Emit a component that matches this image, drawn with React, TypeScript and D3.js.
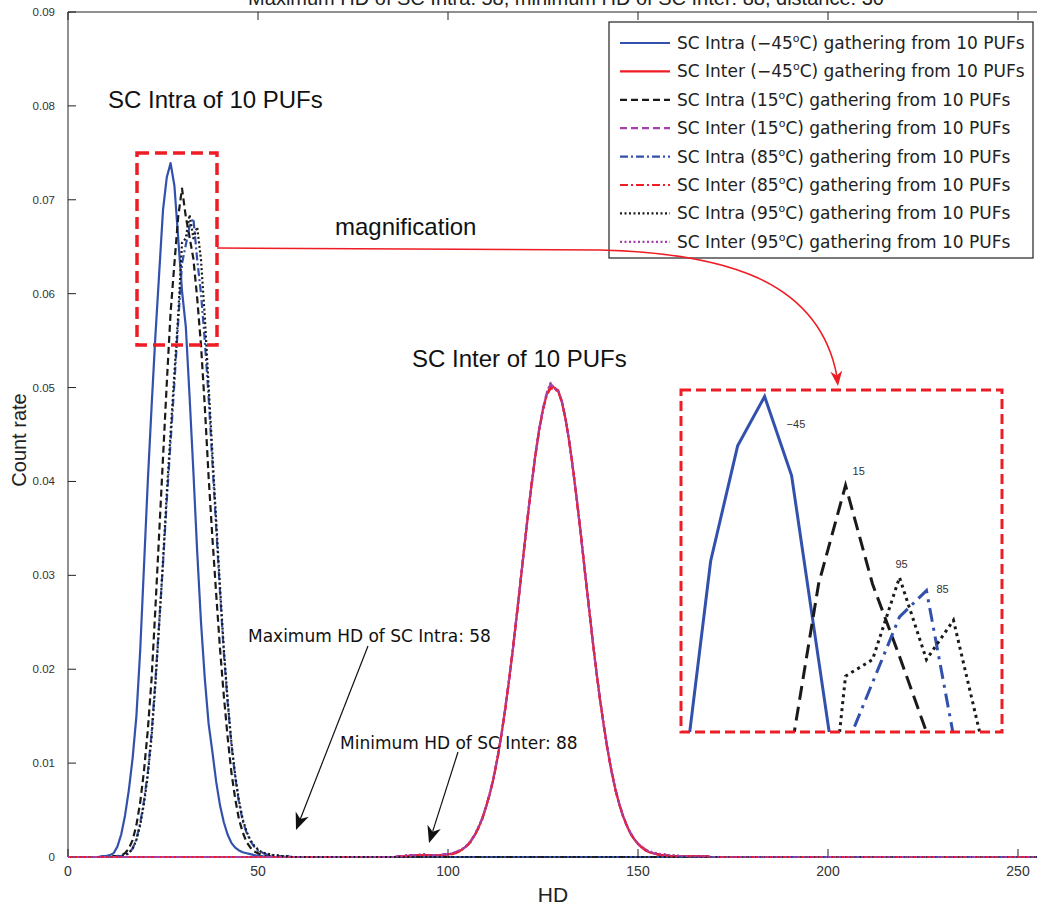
import React from "react";
import * as d3 from "d3";

// ---------- data (HD histogram count rates) ----------
const HD_MAX = 256;
const xTicks = [0, 50, 100, 150, 200, 250];
const yTicks = [0, 0.01, 0.02, 0.03, 0.04, 0.05, 0.06, 0.07, 0.08, 0.09];
const yTickLabels = ["0", "0.01", "0.02", "0.03", "0.04", "0.05", "0.06", "0.07", "0.08", "0.09"];

// intra, -45C, values start at HD 8
const intraM45Start = 8;
const intraM45 = [0, 0.0001, 0.0001, 0.0002, 0.0004, 0.0011, 0.0024, 0.0044, 0.0071, 0.0105, 0.015, 0.022, 0.031, 0.04, 0.048, 0.0555, 0.0622, 0.0689, 0.0724, 0.0739, 0.0715, 0.0659, 0.0603, 0.0565, 0.049, 0.041, 0.0325, 0.025, 0.019, 0.0142, 0.0112, 0.008, 0.0055, 0.0037, 0.0024, 0.0015, 0.001, 0.0007, 0.0005, 0.0004, 0.0003, 0.0002, 0.0001, 0.0001, 0];

// intra, 15C, values start at HD 10
const intra15Start = 10;
const intra15 = [0, 0, 0.0001, 0.0001, 0.0002, 0.0004, 0.0009, 0.0018, 0.0034, 0.0058, 0.0092, 0.0135, 0.019, 0.0265, 0.0345, 0.0425, 0.0505, 0.058, 0.0632, 0.0682, 0.0712, 0.0682, 0.066, 0.0637, 0.0595, 0.0545, 0.048, 0.0405, 0.034, 0.028, 0.0222, 0.0172, 0.0128, 0.009, 0.0062, 0.004, 0.0026, 0.0016, 0.001, 0.0006, 0.0004, 0.0002, 0.0001, 0.0001, 0];

// intra, 85C, values start at HD 10
const intra85Start = 10;
const intra85 = [0, 0, 0, 0.0001, 0.0001, 0.0002, 0.0004, 0.0009, 0.0019, 0.0036, 0.006, 0.009, 0.0132, 0.0188, 0.025, 0.0312, 0.038, 0.0442, 0.0505, 0.057, 0.0632, 0.0652, 0.0672, 0.068, 0.0636, 0.06, 0.055, 0.049, 0.042, 0.035, 0.0282, 0.0218, 0.0165, 0.012, 0.0085, 0.0058, 0.0038, 0.0026, 0.0017, 0.0011, 0.0007, 0.0005, 0.0003, 0.0002, 0.0002, 0.0001, 0.0001, 0.0001, 0.0001, 0];

// intra, 95C, values start at HD 10
const intra95Start = 10;
const intra95 = [0, 0, 0, 0, 0.0001, 0.0002, 0.0004, 0.0009, 0.0018, 0.0034, 0.0057, 0.0087, 0.0128, 0.0184, 0.0248, 0.0315, 0.0388, 0.0452, 0.0515, 0.0577, 0.0654, 0.0659, 0.0684, 0.0659, 0.0671, 0.0636, 0.0575, 0.0502, 0.043, 0.0358, 0.0288, 0.0222, 0.0168, 0.0122, 0.0087, 0.006, 0.004, 0.0027, 0.0018, 0.0012, 0.0008, 0.0005, 0.0004, 0.0003, 0.0002, 0.0002, 0.0001, 0.0001, 0.0001, 0];

// inter series, values start at HD 86
const interStart = 86;
const interM45 = [0, 0.0001, 0.0001, 0.0001, 0.0001, 0.0002, 0.0002, 0.0002, 0.0002, 0.0002, 0.0002, 0.0002, 0.0002, 0.0002, 0.0003, 0.0003, 0.0005, 0.0006, 0.0009, 0.0012, 0.0017, 0.0023, 0.0031, 0.0041, 0.0053, 0.0067, 0.0084, 0.0105, 0.0129, 0.0156, 0.0186, 0.0219, 0.0254, 0.029, 0.0327, 0.0363, 0.0397, 0.0428, 0.0455, 0.0477, 0.0493, 0.0501, 0.05, 0.0497, 0.0484, 0.0465, 0.044, 0.041, 0.0377, 0.0342, 0.0305, 0.0269, 0.0233, 0.0199, 0.0168, 0.014, 0.0114, 0.0092, 0.0073, 0.0057, 0.0044, 0.0034, 0.0025, 0.0019, 0.0014, 0.001, 0.0007, 0.0005, 0.0004, 0.0003, 0.0002, 0.0002, 0.0001, 0.0001, 0.0001, 0.0001, 0.0001, 0.0001, 0.0001, 0.0001, 0.0001, 0.0001, 0.0001, 0];
const inter15 = [0, 0.0001, 0.0001, 0.0001, 0.0002, 0.0002, 0.0002, 0.0002, 0.0002, 0.0002, 0.0002, 0.0002, 0.0002, 0.0003, 0.0003, 0.0004, 0.0005, 0.0007, 0.0009, 0.0012, 0.0017, 0.0024, 0.0031, 0.0041, 0.0054, 0.0067, 0.0085, 0.0105, 0.0128, 0.0157, 0.0187, 0.0218, 0.0255, 0.0291, 0.0326, 0.0364, 0.0396, 0.0429, 0.0456, 0.0478, 0.0494, 0.0504, 0.0499, 0.0496, 0.0485, 0.0464, 0.0441, 0.0409, 0.0378, 0.0341, 0.0306, 0.0268, 0.0234, 0.0198, 0.0169, 0.0139, 0.0115, 0.0091, 0.0073, 0.0058, 0.0044, 0.0034, 0.0026, 0.0019, 0.0014, 0.001, 0.0008, 0.0005, 0.0004, 0.0003, 0.0002, 0.0002, 0.0002, 0.0001, 0.0001, 0.0001, 0.0001, 0.0001, 0.0001, 0.0001, 0.0001, 0.0001, 0.0001, 0];
const inter85 = [0, 0.0001, 0.0001, 0.0001, 0.0001, 0.0001, 0.0002, 0.0002, 0.0002, 0.0002, 0.0002, 0.0002, 0.0002, 0.0002, 0.0003, 0.0003, 0.0004, 0.0006, 0.0009, 0.0012, 0.0016, 0.0023, 0.0031, 0.004, 0.0053, 0.0068, 0.0084, 0.0104, 0.0129, 0.0155, 0.0186, 0.022, 0.0253, 0.029, 0.0328, 0.0362, 0.0398, 0.0427, 0.0455, 0.0476, 0.0492, 0.0499, 0.0498, 0.0496, 0.0484, 0.0466, 0.0439, 0.0411, 0.0376, 0.0343, 0.0304, 0.027, 0.0232, 0.02, 0.0167, 0.0141, 0.0113, 0.0093, 0.0072, 0.0057, 0.0045, 0.0034, 0.0025, 0.0019, 0.0014, 0.0011, 0.0007, 0.0005, 0.0004, 0.0003, 0.0002, 0.0002, 0.0001, 0.0001, 0.0001, 0.0001, 0.0001, 0.0001, 0.0001, 0.0001, 0.0001, 0.0001, 0.0001, 0];
const inter95 = [0, 0.0001, 0.0001, 0.0002, 0.0002, 0.0002, 0.0002, 0.0003, 0.0003, 0.0002, 0.0002, 0.0002, 0.0002, 0.0003, 0.0003, 0.0004, 0.0005, 0.0007, 0.0009, 0.0013, 0.0017, 0.0023, 0.0032, 0.0041, 0.0053, 0.0068, 0.0085, 0.0106, 0.0129, 0.0156, 0.0187, 0.0219, 0.0255, 0.029, 0.0328, 0.0364, 0.0397, 0.0429, 0.0456, 0.0477, 0.0495, 0.0505, 0.0499, 0.0497, 0.0485, 0.0465, 0.044, 0.041, 0.0378, 0.0342, 0.0306, 0.0269, 0.0234, 0.0199, 0.0168, 0.014, 0.0115, 0.0092, 0.0073, 0.0058, 0.0045, 0.0034, 0.0026, 0.0019, 0.0014, 0.0011, 0.0008, 0.0006, 0.0005, 0.0004, 0.0003, 0.0003, 0.0002, 0.0002, 0.0002, 0.0001, 0.0001, 0.0001, 0.0001, 0.0001, 0.0001, 0.0001, 0.0001, 0];

const legendLabels = ["SC Intra (−45", "SC Inter (−45", "SC Intra (15", "SC Inter (15", "SC Intra (85", "SC Inter (85", "SC Intra (95", "SC Inter (95"];
const insetLabels = ["−45", "15", "85", "95"];
const insetLabelSeries = [0, 2, 4, 6];
const insetLabelHD = [27, 30, 33, 32];

// ---------- styling ----------
const BLUE = "#3251ac";
const RED = "#ee1d25";
const BLACK = "#1a1a1a";
const MAGENTA = "#a540ad";
const insetLabelOffsets = [[22, 31], [7, -10], [10, 2], [-4, -9]];

type Pt = { x: number; y: number };
function pad(start: number, vals: number[]): Pt[] {
  const out: Pt[] = [];
  for (let h = 0; h <= HD_MAX; h++) {
    const i = h - start;
    out.push({ x: h, y: i >= 0 && i < vals.length ? vals[i] : 0 });
  }
  return out;
}

const series = [
  { data: pad(intraM45Start, intraM45), color: BLUE, dash: "none", idash: "none" },
  { data: pad(interStart, interM45), color: RED, dash: "none", idash: "none" },
  { data: pad(intra15Start, intra15), color: BLACK, dash: "7,4", idash: "14,7" },
  { data: pad(interStart, inter15), color: MAGENTA, dash: "7,4", idash: "14,7" },
  { data: pad(intra85Start, intra85), color: BLUE, dash: "8,3,2,3", idash: "14,6,3,6" },
  { data: pad(interStart, inter85), color: RED, dash: "8,3,2,3", idash: "14,6,3,6" },
  { data: pad(intra95Start, intra95), color: BLACK, dash: "2,2.5", idash: "3,4" },
  { data: pad(interStart, inter95), color: MAGENTA, dash: "2,2.5", idash: "3,4" },
];

function arrowHead(x1: number, y1: number, x2: number, y2: number, len: number, half: number) {
  const dx = x2 - x1, dy = y2 - y1;
  const L = Math.hypot(dx, dy);
  const ux = dx / L, uy = dy / L;
  const px = -uy, py = ux;
  const bx = x2 - ux * len, by = y2 - uy * len;
  const nx = x2 - ux * len * 0.7, ny = y2 - uy * len * 0.7;
  return {
    d: `M${x2},${y2}L${bx + px * half},${by + py * half}L${nx},${ny}L${bx - px * half},${by - py * half}Z`,
    nx, ny,
  };
}

export default function App() {
  const W = 1037, H = 909;
  const x = d3.scaleLinear().domain([0, HD_MAX]).range([68, 68 + HD_MAX * 3.8]);
  const y = d3.scaleLinear().domain([0, 0.09]).range([857, 12]);
  const line = d3.line<Pt>().x((d) => x(d.x)).y((d) => y(d.y));

  // inset
  const ib = { x0: 681, x1: 1002, y0: 390, y1: 732 };
  const ix = d3.scaleLinear().domain([23.9, 35.8]).range([ib.x0, ib.x1]);
  const iy = d3.scaleLinear().domain([0.0637, 0.0741]).range([ib.y1, ib.y0]);
  const iline = d3.line<Pt>().x((d) => ix(d.x)).y((d) => iy(d.y));
  const intraIdx = [0, 2, 4, 6];

  const a1 = arrowHead(368, 646, 296, 830, 17, 7);
  const a2 = arrowHead(458, 752, 429, 843, 17, 7);
  const a3 = arrowHead(828, 300, 838, 386, 15, 6);

  const narrow = "'Liberation Sans Narrow', 'Liberation Sans', Arial, sans-serif";
  const gothic = "'DejaVu Sans', 'Noto Sans', sans-serif";

  return (
    <svg width={W} height={H} style={{ position: "absolute", left: 0, top: 0, background: "#fff" }} fontFamily="'Liberation Sans', Arial, sans-serif">
      <defs>
        <clipPath id="insetClip">
          <rect x={ib.x0} y={ib.y0 - 2} width={ib.x1 - ib.x0} height={ib.y1 - ib.y0 + 2} />
        </clipPath>
      </defs>
      <rect x={0} y={0} width={W} height={H} fill="#fff" />
      {/* title (cut at top, as in the source) */}
      <text x={566} y={5} textAnchor="middle" fontSize={20} fill="#222">
        Maximum HD of SC Intra: 58, minimum HD of SC Inter: 88, distance: 30
      </text>

      {/* axes frame */}
      <line x1={68} y1={12} x2={W} y2={12} stroke="#222" strokeWidth={1} />
      <line x1={68} y1={12} x2={68} y2={857} stroke="#222" strokeWidth={1} />
      <line x1={68} y1={857} x2={W} y2={857} stroke="#222" strokeWidth={1} />
      {yTicks.map((t, i) => (
        <g key={"yt" + i}>
          <line x1={68} x2={76} y1={y(t)} y2={y(t)} stroke="#222" />
          <text x={55} y={y(t) + 4} textAnchor="end" fontSize={11.5} fill="#333">{yTickLabels[i]}</text>
        </g>
      ))}
      {xTicks.map((t) => (
        <g key={"xt" + t}>
          <line x1={x(t)} x2={x(t)} y1={857} y2={849} stroke="#222" />
          <line x1={x(t)} x2={x(t)} y1={12} y2={20} stroke="#222" />
          <text x={x(t)} y={876} textAnchor="middle" fontSize={14} fontFamily={narrow} fill="#333">{t}</text>
        </g>
      ))}
      <text x={553} y={902} textAnchor="middle" fontSize={21} fontFamily={narrow} fill="#222">HD</text>
      <text transform="translate(26,440) rotate(-90)" textAnchor="middle" fontSize={20} fontFamily={narrow} fill="#222">Count rate</text>

      {/* series */}
      {series.map((s, i) => (
        <path key={"s" + i} d={line(s.data) || ""} fill="none" stroke={s.color} strokeWidth={2.2} strokeDasharray={s.dash} strokeLinejoin="round" />
      ))}

      {/* annotations */}
      <text x={108} y={108} fontSize={24} fill="#111">SC Intra of 10 PUFs</text>
      <text x={412} y={367} fontSize={24} fill="#111">SC Inter of 10 PUFs</text>
      <text x={335} y={235} fontSize={24} fill="#111">magnification</text>
      <text x={248} y={642} fontSize={17} fontFamily={gothic} fill="#111">Maximum HD of SC Intra: 58</text>
      <text x={340} y={749} fontSize={17} fontFamily={gothic} fill="#111">Minimum HD of SC Inter: 88</text>
      <line x1={368} y1={646} x2={a1.nx} y2={a1.ny} stroke="#111" strokeWidth={1.2} />
      <path d={a1.d} fill="#111" />
      <line x1={458} y1={752} x2={a2.nx} y2={a2.ny} stroke="#111" strokeWidth={1.2} />
      <path d={a2.d} fill="#111" />

      {/* legend */}
      <rect x={609} y={22} width={424} height={236} fill="#fff" stroke="#222" strokeWidth={1.2} />
      {series.map((s, i) => {
        const ry = 43 + i * 28.4;
        return (
          <g key={"lg" + i}>
            <line x1={620} x2={670} y1={ry} y2={ry} stroke={s.color} strokeWidth={2.2} strokeDasharray={s.dash} />
            <text x={677} y={ry + 6} fontSize={17} fontFamily={gothic} fill="#222">
              {legendLabels[i]}
              <tspan fontSize={11} dy={-7}>o</tspan>
              <tspan dy={7}>C) gathering from 10 PUFs</tspan>
            </text>
          </g>
        );
      })}

      {/* magnification source box and connector */}
      <rect x={137} y={153} width={80} height={192} fill="none" stroke={RED} strokeWidth={3.5} strokeDasharray="12,6" />
      <path d={`M217,248 L600,250 C720,253 818,278 ${a3.nx},${a3.ny}`} fill="none" stroke={RED} strokeWidth={1.6} />
      <path d={a3.d} fill={RED} />

      {/* inset */}
      <rect x={ib.x0} y={ib.y0} width={ib.x1 - ib.x0} height={ib.y1 - ib.y0} fill="#fff" />
      <g clipPath="url(#insetClip)">
        {intraIdx.map((k) => {
          const s = series[k];
          const pts = s.data.filter((d) => d.x >= 22 && d.x <= 38);
          return <path key={"in" + k} d={iline(pts) || ""} fill="none" stroke={s.color} strokeWidth={3} strokeDasharray={s.idash} />;
        })}
      </g>
      <rect x={ib.x0} y={ib.y0} width={ib.x1 - ib.x0} height={ib.y1 - ib.y0} fill="none" stroke={RED} strokeWidth={3} strokeDasharray="10,5" />
      {insetLabels.map((t, i) => {
        const hd = insetLabelHD[i];
        const v = series[insetLabelSeries[i]].data[hd].y;
        return (
          <text key={t} x={ix(hd) + insetLabelOffsets[i][0]} y={iy(v) + insetLabelOffsets[i][1]} fontSize={11} fill="#333">{t}</text>
        );
      })}
    </svg>
  );
}
